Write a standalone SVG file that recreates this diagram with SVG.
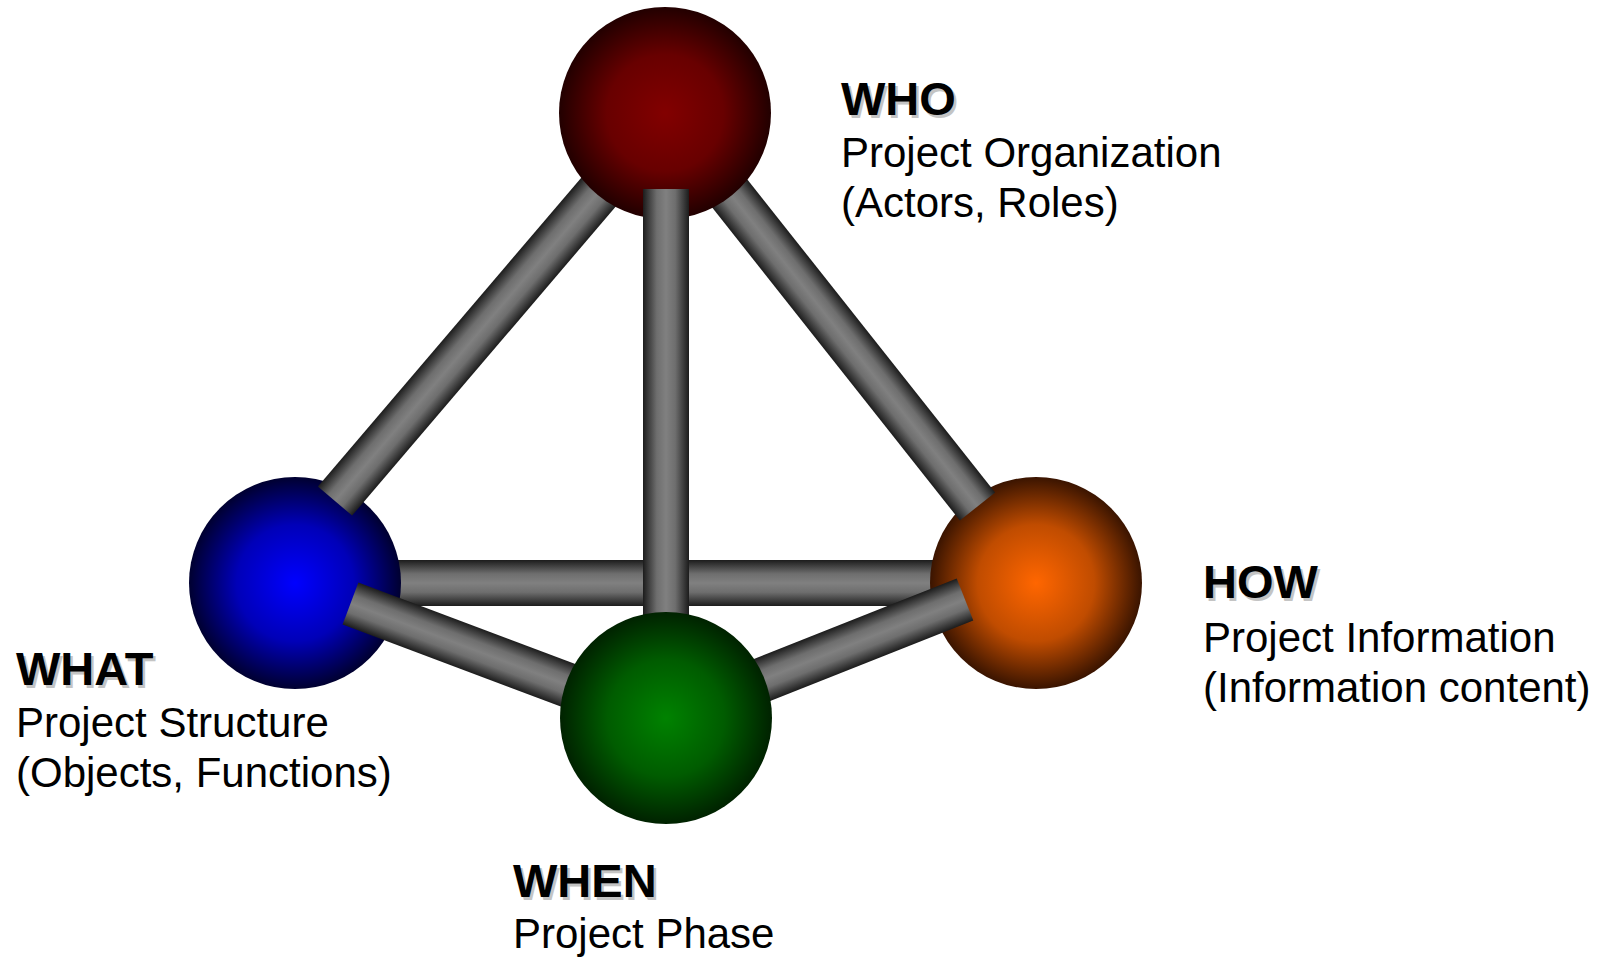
<svg xmlns="http://www.w3.org/2000/svg" width="1610" height="957" viewBox="0 0 1610 957">
<defs>
<linearGradient id="rodV" x1="0" y1="0" x2="0" y2="1">
<stop offset="0" stop-color="#1c1c1c"/><stop offset="0.3" stop-color="#6e6e6e"/><stop offset="0.5" stop-color="#808080"/><stop offset="0.7" stop-color="#6e6e6e"/><stop offset="1" stop-color="#1c1c1c"/>
</linearGradient>
<linearGradient id="rodH" x1="0" y1="0" x2="1" y2="0">
<stop offset="0" stop-color="#1c1c1c"/><stop offset="0.3" stop-color="#6e6e6e"/><stop offset="0.5" stop-color="#808080"/><stop offset="0.7" stop-color="#6e6e6e"/><stop offset="1" stop-color="#1c1c1c"/>
</linearGradient>
<radialGradient id="gRed" cx="0.5" cy="0.5" r="0.5">
<stop offset="0" stop-color="#820000"/><stop offset="0.55" stop-color="#680000"/><stop offset="1" stop-color="#220000"/>
</radialGradient>
<radialGradient id="gBlue" cx="0.5" cy="0.5" r="0.5">
<stop offset="0" stop-color="#0000ff"/><stop offset="0.55" stop-color="#0000b8"/><stop offset="1" stop-color="#000030"/>
</radialGradient>
<radialGradient id="gGreen" cx="0.5" cy="0.5" r="0.5">
<stop offset="0" stop-color="#008200"/><stop offset="0.55" stop-color="#005c00"/><stop offset="1" stop-color="#002200"/>
</radialGradient>
<radialGradient id="gOrange" cx="0.5" cy="0.5" r="0.5">
<stop offset="0" stop-color="#ff6600"/><stop offset="0.55" stop-color="#c04c00"/><stop offset="1" stop-color="#3a1400"/>
</radialGradient>
<style>
text{font-family:"Liberation Sans",Arial,sans-serif;fill:#000}
.t{font-size:47px;font-weight:bold}
.sh{font-size:47px;font-weight:bold;fill:#c4c4c4}
.b{font-size:42px}
.rod{fill:url(#rodV)}
</style>
</defs>

<g id="connectors-back">
<rect id="rod-what-how" x="295" y="560" width="741" height="46" class="rod"/>
</g>

<g id="node-what-sphere"><circle cx="295" cy="583" r="106" fill="url(#gBlue)"/></g>
<g id="node-how-sphere"><circle cx="1036" cy="583" r="106" fill="url(#gOrange)"/></g>

<g id="connectors">
<rect x="0" y="-22.5" width="510" height="45" class="rod" transform="translate(335 501) rotate(-49.53)"/>
<rect x="0" y="-22.5" width="502" height="45" class="rod" transform="translate(977.5 506.5) rotate(-128.36)"/>
<rect x="0" y="-22.5" width="337" height="45" class="rod" transform="translate(350.5 603.5) rotate(20.59)"/>
<rect x="0" y="-22.5" width="322" height="45" class="rod" transform="translate(965 599.5) rotate(158.38)"/>
</g>

<g id="node-who-sphere"><circle cx="665" cy="113" r="106" fill="url(#gRed)"/></g>

<g id="connector-who-when">
<rect x="643" y="189" width="46" height="530" fill="url(#rodH)"/>
</g>

<g id="node-when-sphere"><circle cx="666" cy="718" r="106" fill="url(#gGreen)"/></g>

<g id="node-who-label">
<text class="sh" x="843.5" y="117.5">WHO</text>
<text class="t" x="841" y="115">WHO</text>
<text class="b" x="841" y="167">Project Organization</text>
<text class="b" x="841" y="217">(Actors, Roles)</text>
</g>

<g id="node-what-label">
<text class="sh" x="18.5" y="687.5">WHAT</text>
<text class="t" x="16" y="685">WHAT</text>
<text class="b" x="16" y="737">Project Structure</text>
<text class="b" x="16" y="787">(Objects, Functions)</text>
</g>

<g id="node-when-label">
<text class="sh" x="515.5" y="899.5">WHEN</text>
<text class="t" x="513" y="897">WHEN</text>
<text class="b" x="513" y="948">Project Phase</text>
</g>

<g id="node-how-label">
<text class="sh" x="1205.5" y="600.5">HOW</text>
<text class="t" x="1203" y="598">HOW</text>
<text class="b" x="1203" y="652">Project Information</text>
<text class="b" x="1203" y="702">(Information content)</text>
</g>
</svg>
